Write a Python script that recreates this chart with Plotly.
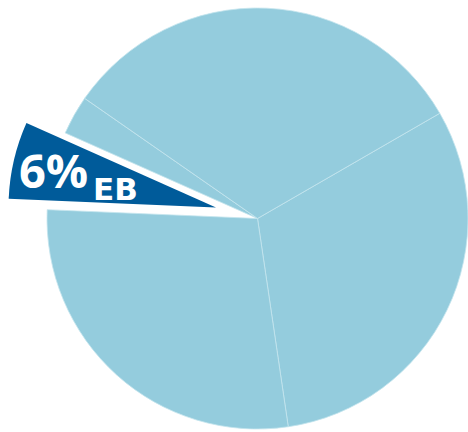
import plotly.graph_objects as go

# Data (clockwise from the 60° boundary)
labels = ["Segment A", "Segment B", "EB", "Segment C", "Segment D"]
values = [31, 28, 6, 3, 32]
highlight = "EB"

light = "#94ccdd"
dark = "#005b9a"

main_colors = ["rgba(0,0,0,0)" if l == highlight else light for l in labels]
main_line_w = [0 if l == highlight else 0.8 for l in labels]
eb_colors = [dark if l == highlight else "rgba(0,0,0,0)" for l in labels]

W, H = 468, 432

fig = go.Figure()
fig.add_trace(go.Pie(
    labels=labels, values=values, sort=False, direction="clockwise", rotation=60,
    marker=dict(colors=main_colors, line=dict(color="#c4e4ee", width=main_line_w)),
    textinfo="none", hoverinfo="label+percent", showlegend=False,
    domain=dict(x=[47 / W, 1.0], y=[3 / H, 424 / H]),
))
fig.add_trace(go.Pie(
    labels=labels, values=values, sort=False, direction="clockwise", rotation=60,
    marker=dict(colors=eb_colors, line=dict(width=0)),
    textinfo="none", hoverinfo="label+percent", showlegend=False,
    domain=dict(x=[8.5 / W, 423.5 / W], y=[17 / H, 1.0]),
))

i = labels.index(highlight)
pct = round(100 * values[i] / sum(values))
fig.add_annotation(text=f"<b>{pct}%</b>", x=53 / W, y=1 - 169.5 / H, xref="paper", yref="paper",
                   showarrow=False, font=dict(family="Open Sans", size=47, color="white"),
                   xanchor="center", yanchor="middle")
fig.add_annotation(text=f"<b>{highlight}</b>", x=115.5 / W, y=1 - 188.5 / H, xref="paper", yref="paper",
                   showarrow=False, font=dict(family="DejaVu Sans", size=31, color="white"),
                   xanchor="center", yanchor="middle")

fig.update_layout(width=W, height=H, margin=dict(l=0, r=0, t=0, b=0),
                  paper_bgcolor="white", plot_bgcolor="white")
fig.write_html("out.html")
